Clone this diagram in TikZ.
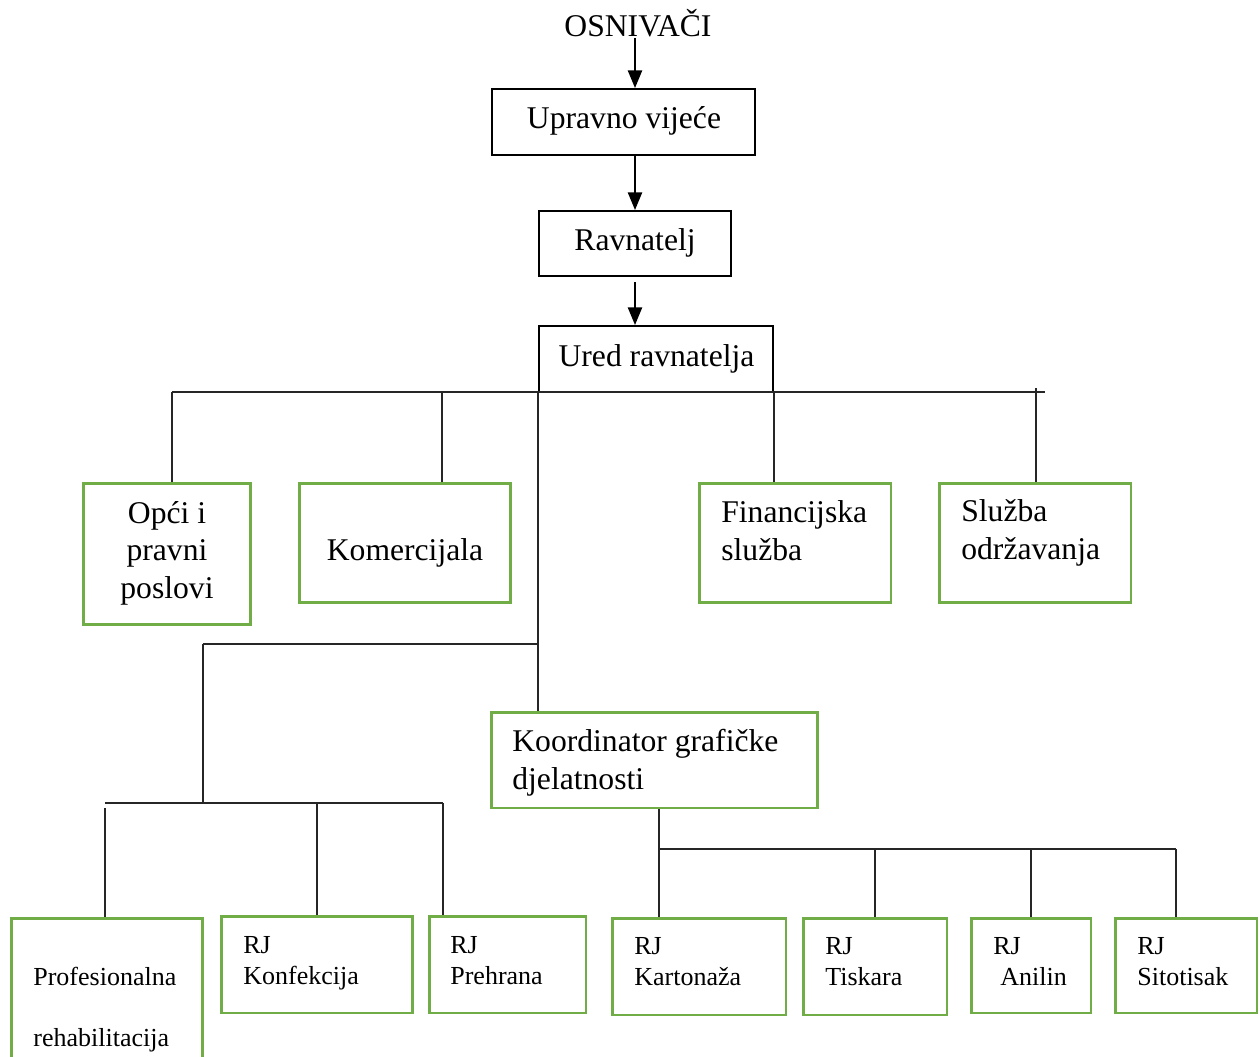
\documentclass[tikz,border=0pt]{standalone}
\usepackage{fontspec}
\setmainfont{Liberation Serif}
\usetikzlibrary{arrows.meta}

\definecolor{boxgreen}{HTML}{70AD47}

\begin{document}
\begin{tikzpicture}[x=0.02cm, y=-0.02cm,
  ubox/.style={draw, line width=1.1pt, inner sep=0},
  gbox/.style={draw=boxgreen, line width=1.7pt, inner sep=0},
  lbl/.style={inner sep=0, align=left, font=\fontsize{18}{21.3}\selectfont},
  slbl/.style={inner sep=0, align=left, font=\fontsize{14.8}{17.6}\selectfont},
  conn/.style={line width=0.7pt, draw=black!85},
  arr/.style={line width=1.1pt, -{Triangle[width=8pt,length=10pt]}}]
% Fix the page size and cut what runs past it
\useasboundingbox (0,0) rectangle (1260,1057);
\clip (0,0) rectangle (1260,1057);
% Top of the chart
\node[lbl, anchor=base] (osn) at (638,37) {OSNIVAČI};
\node[ubox, minimum width=5.26cm, minimum height=1.32cm] (upr) at (623.5,122) {};
\node[lbl, anchor=base] (uprT) at (624,129) {Upravno vijeće};
\node[ubox, minimum width=3.84cm, minimum height=1.3cm] (ravn) at (635,243.5) {};
\node[lbl, anchor=base] (ravnT) at (635,251) {Ravnatelj};
\node[ubox, minimum width=4.68cm, minimum height=1.32cm] (ured) at (656,359) {};
\node[lbl, anchor=base] (uredT) at (656.5,366) {Ured ravnatelja};
% Arrows down the middle
\draw[arr] (osn.south -| ravn.north) -- (ravn.north |- upr.north);
\draw[arr] (ravn.north |- upr.south) -- (ravn.north);
\draw[arr] ([yshift=-3pt]ravn.south) -- (ravn.south |- ured.north);
% Services under the office
\node[gbox, minimum width=3.36cm, minimum height=2.84cm] (opci) at (167,554) {};
\node[lbl, align=center, anchor=base] (opciT) at (167,598) {Opći i\\pravni\\poslovi};
\node[gbox, minimum width=4.24cm, minimum height=2.4cm] (kom) at (405,543) {};
\node[lbl, anchor=base] (komT) at (405,560) {Komercijala};
\node[gbox, minimum width=3.84cm, minimum height=2.4cm] (fin) at (795,543) {};
\node[lbl, anchor=base west] (finT) at (721,560) {Financijska\\služba};
\node[gbox, minimum width=3.84cm, minimum height=2.4cm] (slu) at (1035,543) {};
\node[lbl, anchor=base west] (sluT) at (961,559) {Služba\\održavanja};
% Upper bus
\coordinate (busL) at (172,392);
\coordinate (busR) at (1045,392);
\coordinate (komTop) at (442,392);
\coordinate (sluTick) at (1036,388);
\draw[conn] (busL) -- (busR);
\draw[conn] (busL) -- (busL |- opci.north);
\draw[conn] (komTop) -- (komTop |- kom.north);
\draw[conn] (ured.south east) -- (ured.south east |- fin.north);
\draw[conn] (sluTick) -- (sluTick |- slu.north);
% Coordinator
\node[gbox, minimum width=6.54cm, minimum height=1.92cm] (koord) at (654.5,760) {};
\node[lbl, anchor=base west] (koordT) at (512,789) {Koordinator grafičke\\djelatnosti};
\draw[conn] (ured.south west) -- (ured.south west |- koord.north);
% Left branch
\coordinate (bus2) at (203,644);
\coordinate (bus3L) at (105,803);
\coordinate (bus3R) at (443,803);
\coordinate (profTop) at (105,808);
\draw[conn] (bus2) -- (bus2 -| ured.south west);
\draw[conn] (bus2) -- (bus2 |- bus3L);
\draw[conn] (bus3L) -- (bus3R);
\node[gbox, minimum width=3.84cm, minimum height=2.94cm] (prof) at (107,991.5) {};
\node[slbl, anchor=base west, font=\fontsize{14.8}{34.6}\selectfont] (profT) at (33,1046) {Profesionalna\\rehabilitacija};
\node[gbox, minimum width=3.84cm, minimum height=1.94cm] (konf) at (317,964.5) {};
\node[slbl, anchor=base west] (konfT) at (243,984) {RJ\\Konfekcija};
\node[gbox, minimum width=3.14cm, minimum height=1.94cm] (preh) at (507.5,964.5) {};
\node[slbl, anchor=base west] (prehT) at (450,984) {RJ\\Prehrana};
\draw[conn] (profTop) -- (profTop |- prof.north);
\draw[conn] (konf.north |- bus3L) -- (konf.north);
\draw[conn] (bus3R) -- (bus3R |- preh.north);
% Right branch
\coordinate (bus4L) at (659,849);
\coordinate (bus4R) at (1176,849);
\node[gbox, minimum width=3.48cm, minimum height=1.94cm] (kart) at (699,966.5) {};
\node[slbl, anchor=base west] (kartT) at (634,985) {RJ\\Kartonaža};
\node[gbox, minimum width=2.88cm, minimum height=1.94cm] (tisk) at (875,966.5) {};
\node[slbl, anchor=base west] (tiskT) at (825,985) {RJ\\Tiskara};
\node[gbox, minimum width=2.4cm, minimum height=1.9cm] (anil) at (1031,965.5) {};
\node[slbl, anchor=base west] (anilT) at (993,985) {RJ\\\hspace{4pt}Anilin};
\node[gbox, minimum width=2.84cm, minimum height=1.9cm] (sito) at (1186,965.5) {};
\node[slbl, anchor=base west] (sitoT) at (1137,985) {RJ\\Sitotisak};
\draw[conn] (bus4L |- koord.south) -- (bus4L |- kart.north);
\draw[conn] (bus4L) -- (bus4R);
\draw[conn] (tisk.north |- bus4L) -- (tisk.north);
\draw[conn] (anil.north |- bus4L) -- (anil.north);
\draw[conn] (bus4R) -- (bus4R |- sito.north);
\end{tikzpicture}
\end{document}
